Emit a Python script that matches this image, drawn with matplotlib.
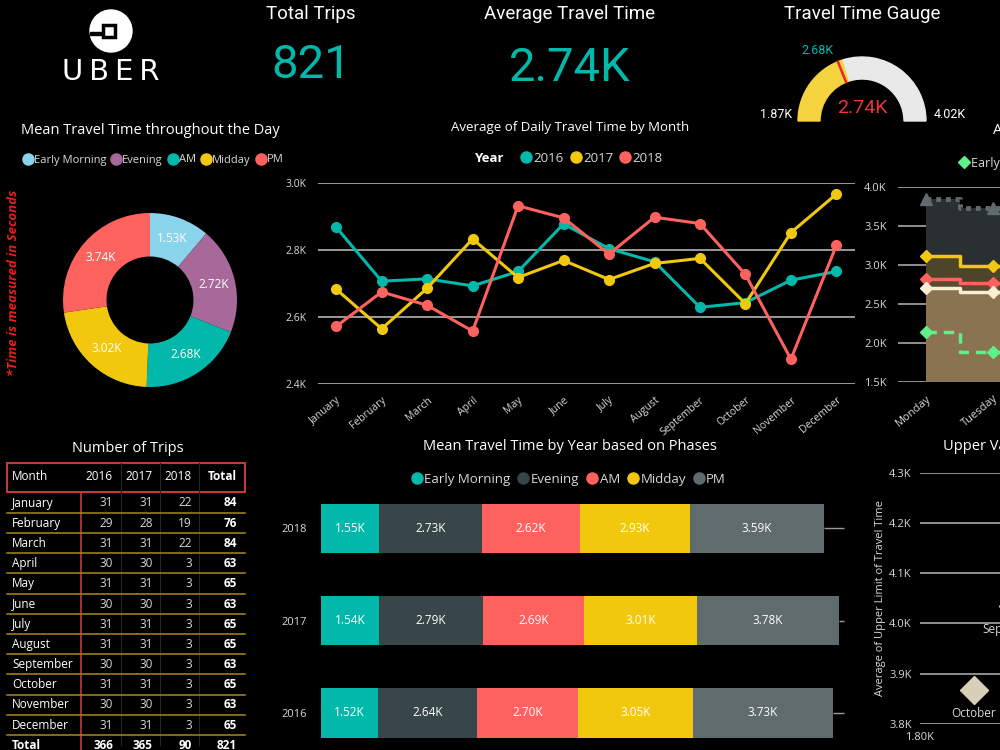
import numpy as np
import matplotlib.pyplot as plt
from matplotlib.patches import Wedge, Circle, Rectangle
from matplotlib.lines import Line2D

plt.rcParams['font.family'] = ['Open Sans', 'DejaVu Sans']
NARROW = ['Roboto', 'DejaVu Sans']

# ---- data ----
total_trips_label = 'Total Trips'
avg_travel = 2.74
gauge_min, gauge_max, gauge_val, gauge_target = 1.87, 4.02, 2.74, 2.68

phases = ['Early Morning', 'Evening', 'AM', 'Midday', 'PM']
day_means = [1.53, 2.72, 2.68, 3.02, 3.74]
donut_colors = ['#8AD4EB', '#A66999', '#01B8AA', '#F2C80F', '#FD625E']

months = ['January', 'February', 'March', 'April', 'May', 'June', 'July',
          'August', 'September', 'October', 'November', 'December']
daily_2016 = [2.867, 2.706, 2.713, 2.692, 2.735, 2.877, 2.803, 2.764, 2.628, 2.642, 2.709, 2.735]
daily_2017 = [2.682, 2.564, 2.685, 2.832, 2.717, 2.768, 2.711, 2.759, 2.774, 2.639, 2.851, 2.966]
daily_2018 = [2.571, 2.674, 2.634, 2.557, 2.931, 2.895, 2.787, 2.897, 2.878, 2.726, 2.473, 2.813]
year_colors = ['#01B8AA', '#F2C80F', '#FD625E']

weekdays = ['Monday', 'Tuesday', 'Wednesday']
wd_pm = [3.85, 3.73, 3.78]
wd_midday = [3.11, 2.99, 3.04]
wd_am = [2.82, 2.77, 2.79]
wd_evening = [2.71, 2.66, 2.69]
wd_early = [2.14, 1.88, 1.95]

trips_2016 = [31, 29, 31, 30, 31, 30, 31, 31, 30, 31, 30, 31]
trips_2017 = [31, 28, 31, 30, 31, 30, 31, 31, 30, 31, 30, 31]
trips_2018 = [22, 19, 22, 3, 3, 3, 3, 3, 3, 3, 3, 3]

years = ['2016', '2017', '2018']
ph_early = [1.52, 1.54, 1.55]
ph_evening = [2.64, 2.79, 2.73]
ph_am = [2.70, 2.69, 2.62]
ph_midday = [3.05, 3.01, 2.93]
ph_pm = [3.73, 3.78, 3.59]
bar_colors = ['#01B8AA', '#374649', '#FD625E', '#F2C80F', '#5F6B6D']

upper_months = ['September', 'October']
upper_x = [1.955, 1.89]
upper_y = [4.035, 3.868]

# ---- figure ----
W, H = 1000, 750
fig = plt.figure(figsize=(10, 7.5), dpi=100, facecolor='black')
TXT = '#d9d9d9'
GRID = '#9a9a9a'


def box(x0, y0, x1, y1):
    a = fig.add_axes([x0 / W, 1 - y1 / H, (x1 - x0) / W, (y1 - y0) / H])
    a.set_facecolor('none')
    for s in a.spines.values():
        s.set_visible(False)
    return a


bg = box(0, 0, W, H)
bg.set_xlim(0, W)
bg.set_ylim(H, 0)
bg.axis('off')

# logo
bg.add_patch(Circle((111, 31), 21, color='white'))
bg.add_patch(Rectangle((90, 31.5), 14, 3, color='black'))
bg.add_patch(Rectangle((103, 25), 12, 12, facecolor='white', edgecolor='black', lw=2.5))
bg.text(111, 72, 'U\u2009B\u2009E\u2009R', color='white', fontsize=21, ha='center', va='center',
        family=['DejaVu Sans'])

# KPI cards
trip_total = sum(trips_2016) + sum(trips_2017) + sum(trips_2018)
bg.text(311, 14, total_trips_label, color='white', fontsize=13.5, ha='center', va='center', family=NARROW)
bg.text(311, 65, f'{trip_total}', color='#01B8AA', fontsize=34, ha='center', va='center', family=NARROW)
bg.text(570, 14, 'Average Travel Time', color='white', fontsize=13.5, ha='center', va='center', family=NARROW)
bg.text(570, 68, f'{avg_travel:.2f}K', color='#01B8AA', fontsize=34, ha='center', va='center', family=NARROW)
bg.text(862, 14, 'Travel Time Gauge', color='white', fontsize=13.5, ha='center', va='center', family=NARROW)

# gauge
cx, cy, R, Rw = 862, 121, 64, 22
ang = lambda v: 180 - 180 * (v - gauge_min) / (gauge_max - gauge_min)
pv, pt = ang(gauge_val), ang(gauge_target)
bg.add_patch(Wedge((cx, cy), R, -180, -pv, width=Rw, color='#F5D33F'))
bg.add_patch(Wedge((cx, cy), R, -pv, 0, width=Rw, color='#E9E9E9'))
t = np.radians(pt)
bg.plot([cx + (R - Rw) * np.cos(t), cx + R * np.cos(t)],
        [cy - (R - Rw) * np.sin(t), cy - R * np.sin(t)], color='#E8262A', lw=1.8)
bg.text(818, 50, f'{gauge_target:.2f}K', color='#01B8AA', fontsize=9, ha='center', va='center', family=NARROW)
bg.text(776, 115, f'{gauge_min:.2f}K', color='white', fontsize=9, ha='center', va='center', family=NARROW)
bg.text(950, 115, f'{gauge_max:.2f}K', color='white', fontsize=9, ha='center', va='center', family=NARROW)
bg.text(862, 108, f'{gauge_val:.2f}K', color='#E8363A', fontsize=14, ha='center', va='center', family=NARROW)

# donut
bg.text(150, 130, 'Mean Travel Time throughout the Day', color='white', fontsize=10.5, ha='center', va='center')
fig.legend([Line2D([], [], marker='o', ls='', color=c, ms=8) for c in donut_colors], phases,
           loc='center left', bbox_to_anchor=(12 / W, 1 - 160 / H), ncol=5, frameon=False,
           fontsize=8, handletextpad=0.05, columnspacing=0.4, handlelength=1.0, labelcolor=TXT)
bg.text(14, 283, '*Time is measured in Seconds', rotation=90, color='#E0201E', style='italic',
        weight='bold', fontsize=9.5, ha='center', va='center')
dax = box(63, 213, 237, 387)
tot = sum(day_means)
dax.pie(day_means, colors=donut_colors, startangle=90, counterclock=False,
        wedgeprops=dict(width=0.5, edgecolor='none'),
        autopct=lambda p: f'{p * tot / 100:.2f}K', pctdistance=0.75,
        textprops=dict(color='white', fontsize=8.5))
dax.set_xlim(-1, 1)
dax.set_ylim(-1, 1)

# line chart
bg.text(570, 128, 'Average of Daily Travel Time by Month', color='white', fontsize=9.5, ha='center', va='center')
bg.text(504, 158, 'Year', color='white', fontsize=9.5, weight='bold', ha='right', va='center')
fig.legend([Line2D([], [], marker='o', ls='', color=c, ms=8) for c in year_colors], years,
           loc='center left', bbox_to_anchor=(508 / W, 1 - 158 / H), ncol=3, frameon=False,
           fontsize=9.5, handletextpad=0.05, columnspacing=0.4, handlelength=1.0, labelcolor=TXT)
lax = box(318, 182.7, 855.5, 383.7)
xm = np.arange(len(months))
for vals, c in zip([daily_2016, daily_2017, daily_2018], year_colors):
    lax.plot(xm, vals, color=c, lw=2.2, marker='o', ms=7, clip_on=False, zorder=3)
lax.set_xlim(-0.4, 11.42)
lax.set_ylim(2.4, 3.0)
lax.set_yticks([2.4, 2.6, 2.8, 3.0])
lax.set_yticklabels([f'{v:.1f}K' for v in [2.4, 2.6, 2.8, 3.0]])
lax.yaxis.grid(True, color=GRID, lw=1.4)
lax.set_axisbelow(True)
lax.set_xticks(xm)
lax.set_xticklabels(months, rotation=40, ha='right', rotation_mode='anchor')
lax.tick_params(length=0, colors=TXT, labelsize=7.5, pad=8)

# weekday step chart (cut at right edge, as in the dashboard screenshot)
bg.text(993, 130, 'Average Travel Time by Weekday', color='white', fontsize=10.5, ha='left', va='center')
fig.legend([Line2D([], [], marker='D', ls='', color='#5EF08A', ms=6)], ['Early Morning'],
           loc='center left', bbox_to_anchor=(946 / W, 1 - 163 / H), frameon=False,
           fontsize=9, handletextpad=0.1, handlelength=1.0, labelcolor=TXT)
sax = box(898, 187, 1160, 382)
xd = np.arange(len(weekdays))
sax.fill_between(xd, wd_pm, 1.5, step='mid', color='#2A2F31', lw=0)
sax.fill_between(xd, wd_midday, 1.5, step='mid', color='#4D4529', lw=0)
sax.fill_between(xd, wd_am, 1.5, step='mid', color='#5A4C30', lw=0)
sax.fill_between(xd, wd_evening, 1.5, step='mid', color='#8A7350', lw=0)
sax.plot(xd, wd_pm, drawstyle='steps-mid', color='#5F6B6D', lw=3.5, ls=(0, (1, 1)), marker='^', ms=8)
sax.plot(xd, wd_midday, drawstyle='steps-mid', color='#F2C80F', lw=2.5, marker='D', ms=6)
sax.plot(xd, wd_am, drawstyle='steps-mid', color='#FD625E', lw=2.5, marker='D', ms=6)
sax.plot(xd, wd_evening, drawstyle='steps-mid', color='#F8EED4', lw=2.5, marker='D', ms=6)
sax.plot(xd, wd_early, drawstyle='steps-mid', color='#5EF08A', lw=2.5, ls=(0, (3, 2)), marker='D', ms=6)
sax.set_xlim(-0.418, 3.49)
sax.set_ylim(1.5, 4.0)
yt = np.arange(1.5, 4.01, 0.5)
sax.set_yticks(yt)
sax.set_yticklabels([f'{v:.1f}K' for v in yt])
sax.yaxis.grid(True, color=GRID, lw=1.3)
sax.set_axisbelow(True)
sax.set_xticks(xd)
sax.set_xticklabels(weekdays, rotation=40, ha='right', rotation_mode='anchor')
sax.tick_params(length=0, colors=TXT, labelsize=8, pad=8)

# table
bg.text(128, 449, 'Number of Trips', color='white', fontsize=10.5, ha='center', va='center')
bg.add_patch(Rectangle((7, 463), 238, 29, fill=False, edgecolor='#C0393B', lw=1.5))
cols_r = [113, 153, 192, 237]
for xc in [121, 160, 199]:
    bg.plot([xc, xc], [463, 745], color='#262626', lw=0.8)
bg.plot([80.5, 80.5], [492, 750], color='#C0393B', lw=1.2)
bg.text(12, 477, 'Month', color='white', fontsize=8.5, va='center')
for xr, lab in zip(cols_r, years + ['Total']):
    bg.text(xr, 477, lab, color='white', fontsize=8.5, va='center', ha='right',
            weight='bold' if lab == 'Total' else 'normal')
for i, m in enumerate(months):
    yr = 503 + i * 20.2
    row = [trips_2016[i], trips_2017[i], trips_2018[i]]
    bg.text(12, yr, m, color='white', fontsize=8.5, va='center')
    for xr, v in zip(cols_r, row):
        bg.text(xr, yr, str(v), color=TXT, fontsize=8.5, va='center', ha='right')
    bg.text(cols_r[3], yr, str(sum(row)), color='white', fontsize=8.5, va='center', ha='right', weight='bold')
    bg.plot([7, 245], [yr + 9.8, yr + 9.8], color='#A8891E', lw=1.1)
ty = 503 + 12 * 20.2
bg.text(12, ty, 'Total', color='white', fontsize=8.5, va='center', weight='bold')
for xr, v in zip(cols_r, [sum(trips_2016), sum(trips_2017), sum(trips_2018), trip_total]):
    bg.text(xr, ty, str(v), color='white', fontsize=8.5, va='center', ha='right', weight='bold')

# stacked bars
bg.text(570, 447, 'Mean Travel Time by Year based on Phases', color='white', fontsize=10.5, ha='center', va='center')
fig.legend([Line2D([], [], marker='o', ls='', color=c, ms=8) for c in bar_colors], phases,
           loc='center', bbox_to_anchor=(568 / W, 1 - 479 / H), ncol=5, frameon=False,
           fontsize=9.5, handletextpad=0.05, columnspacing=0.5, handlelength=1.0, labelcolor=TXT)
bax = box(321, 500, 846, 740)
yb = np.arange(len(years))
left = np.zeros(len(years))
for vals, c in zip([ph_early, ph_evening, ph_am, ph_midday, ph_pm], bar_colors):
    bax.barh(yb, vals, left=left, height=0.53, color=c, edgecolor='none')
    for yy, l, v in zip(yb, left, vals):
        bax.text(l + v / 2, yy, f'{v:.2f}K', color='white', fontsize=8.5, ha='center', va='center')
    left = left + np.array(vals)
bax.hlines(yb, left, 13.95, color=GRID, lw=1)
bax.set_xlim(0, 14)
bax.set_ylim(-0.292, 2.303)
bax.set_yticks(yb)
bax.set_yticklabels(years)
bax.set_xticks([0, 5, 10])
bax.set_xticklabels(['0K', '5K', '10K'])
bax.tick_params(length=0, colors=TXT, labelsize=8, pad=10)

# upper limit scatter (cut at right edge)
bg.text(943, 447, 'Upper Value of Travel Time by Month', color='white', fontsize=10.5, ha='left', va='center')
pax = box(920, 472.7, 1160, 724)
pax.plot(upper_x, upper_y, ls='', marker='D', ms=14, color='#D8CFB8')
for m, xv, yv in zip(upper_months, upper_x, upper_y):
    pax.annotate(m, (xv, yv), xytext=(0, -17), textcoords='offset points', color=TXT,
                 fontsize=8.5, ha='center', va='center')
pax.set_xlim(1.8, 2.2)
pax.set_ylim(3.8, 4.3)
yu = np.arange(3.8, 4.31, 0.1)
pax.set_yticks(yu)
pax.set_yticklabels([f'{v:.1f}K' for v in yu])
pax.yaxis.grid(True, color=GRID, lw=1.3)
pax.set_axisbelow(True)
pax.set_xticks([1.8, 2.0, 2.2])
pax.set_xticklabels([f'{v:.2f}K' for v in [1.8, 2.0, 2.2]])
pax.tick_params(length=0, colors=TXT, labelsize=8, pad=6)
bg.text(880, 598, 'Average of Upper Limit of Travel Time', rotation=90, color=TXT, fontsize=8,
        ha='center', va='center')

fig.savefig('out.png', dpi=100, facecolor='black')
